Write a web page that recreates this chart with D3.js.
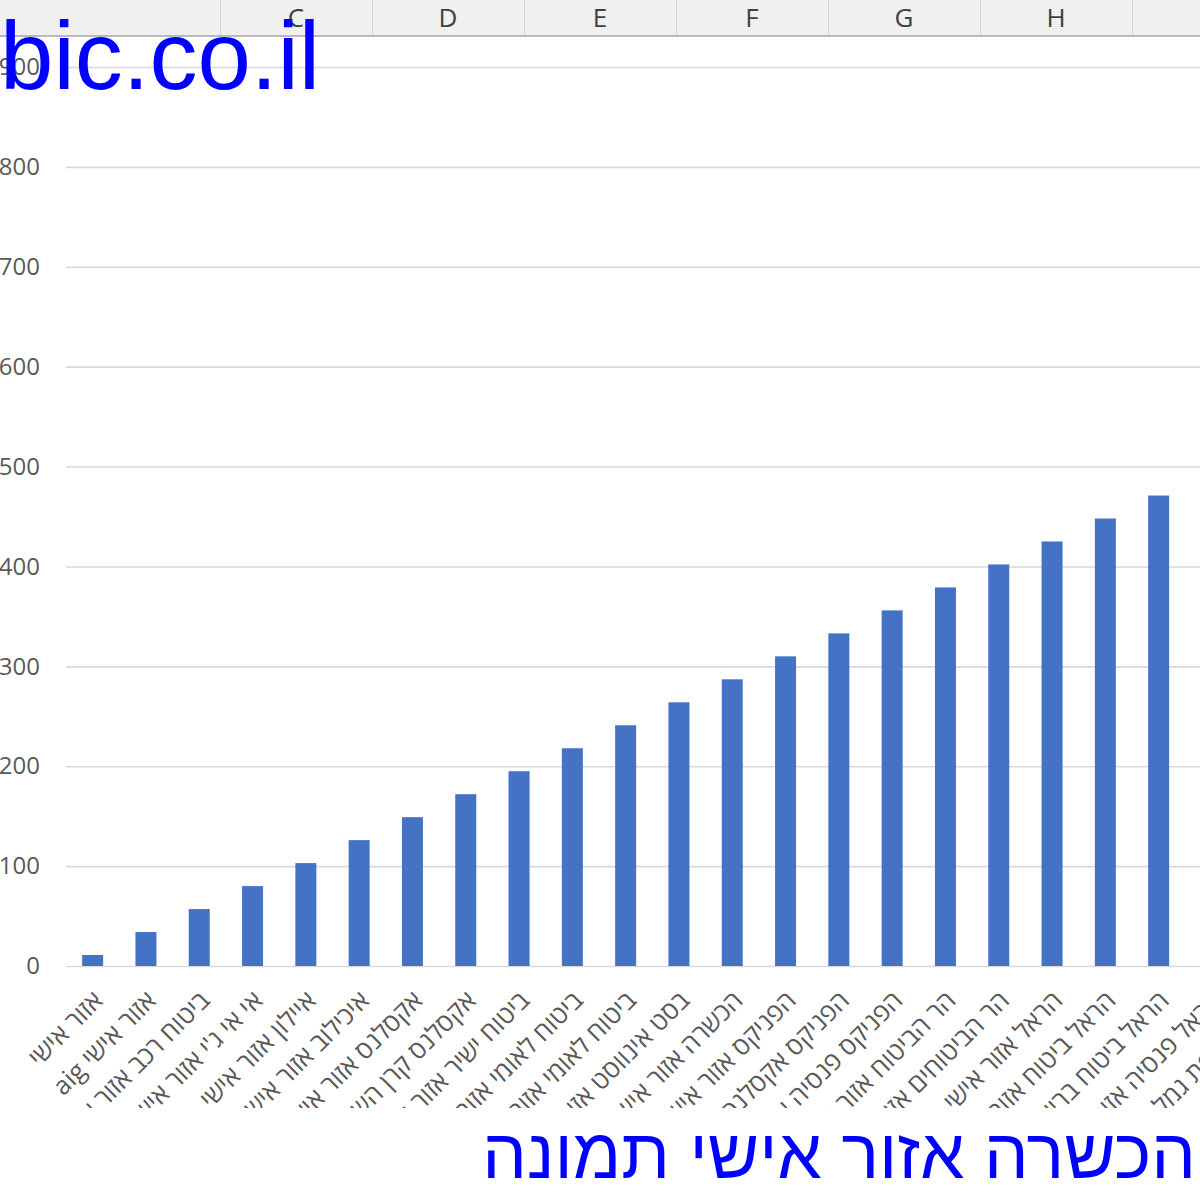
<!DOCTYPE html>
<html><head><meta charset="utf-8">
<script src="https://cdn.jsdelivr.net/npm/d3@7"></script>
<style>html,body{margin:0;padding:0;background:#fff;} svg{display:block}</style>
</head><body><svg id="c" width="1200" height="1200"></svg>
<script>
const categories = [
  "אזור אישי",
  "אזור אישי aig",
  "ביטוח רכב אזור אישי",
  "אי אי ג'י אזור אישי",
  "איילון אזור אישי",
  "איכילוב אזור אישי",
  "אקסלנס אזור אישי",
  "אקסלנס קרן השתלמות אזור אישי",
  "ביטוח ישיר אזור אישי",
  "ביטוח לאומי אזור אישי",
  "ביטוח לאומי אזור אישי מעסיקים",
  "בסט אינווסט אזור אישי",
  "הכשרה אזור אישי",
  "הפניקס אזור אישי",
  "הפניקס אקסלנס אזור אישי",
  "הפניקס פנסיה אזור אישי",
  "הר הביטוח אזור אישי",
  "הר הביטוחים אזור אישי",
  "הראל אזור אישי",
  "הראל ביטוח אזור אישי",
  "הראל ביטוח בריאות אזור אישי",
  "הראל פנסיה אזור אישי",
  "הראל קופת גמל אזור אישי"
];
const values = [11, 34, 57, 80, 103, 126, 149, 172, 195, 218, 241, 264, 287, 310, 333, 356, 379, 402, 425, 448, 471, 494, 517];
const yTicks = [0, 100, 200, 300, 400, 500, 600, 700, 800, 900];
const columnLetters = ["C", "D", "E", "F", "G", "H", "I"];
const watermark = "bic.co.il";
const caption = "הכשרה אזור אישי תמונה";

const W = 1200, H = 1200;
const font = "'Open Sans','Liberation Sans','DejaVu Sans',sans-serif";
const arial = "'Liberation Sans',Arial,sans-serif";
const svg = d3.select("#c");
svg.append("rect").attr("width", W).attr("height", H).attr("fill", "#fff");

const x = d3.scaleBand().domain(categories)
  .range([66, 66 + categories.length * 53.3])
  .paddingInner(0.606).paddingOuter(0.303);
const y = d3.scaleLinear().domain([0, 900]).range([966, 67]);

// gridlines + y tick labels
const yAxis = d3.axisLeft(y).tickValues(yTicks).tickSize(-(W - 66)).tickPadding(26).tickFormat(d3.format("d"));
const gy = svg.append("g").attr("transform", "translate(66,0)").call(yAxis);
gy.select(".domain").remove();
gy.selectAll(".tick line").attr("stroke", "#d9d9d9").attr("stroke-width", 1.6);
gy.selectAll(".tick text").attr("fill", "#595959").style("font-family", font).style("font-size", "24px");

// bars
svg.append("g").selectAll("rect").data(values).join("rect")
  .attr("x", (d, i) => x(categories[i]))
  .attr("y", d => y(d))
  .attr("width", x.bandwidth())
  .attr("height", d => y(0) - y(d))
  .attr("fill", "#4472c4");

// category labels (clipped)
svg.append("clipPath").attr("id", "lblclip").append("rect")
  .attr("x", 0).attr("y", 970).attr("width", W).attr("height", 138);
const gl = svg.append("g").attr("clip-path", "url(#lblclip)");
gl.selectAll("text").data(categories).join("text")
  .attr("transform", d => `translate(${x(d) + x.bandwidth() / 2 - 1},${989}) rotate(-45)`)
  .attr("direction", "rtl")
  .attr("text-anchor", "start")
  .attr("dy", "0.72em")
  .attr("fill", "#595959")
  .style("font-family", font)
  .style("font-size", "25.5px")
  .text(d => d);

// spreadsheet column header
const cols = d3.scaleBand().domain(columnLetters).range([220, 220 + columnLetters.length * 152]);
const gh = svg.append("g");
gh.append("rect").attr("x", 0).attr("y", 0).attr("width", W).attr("height", 36).attr("fill", "#f0f0f0");
gh.selectAll("line.sep").data(columnLetters).join("line").attr("class", "sep")
  .attr("x1", d => cols(d) + 0.5).attr("x2", d => cols(d) + 0.5)
  .attr("y1", 0).attr("y2", 36).attr("stroke", "#d6d6d6").attr("stroke-width", 1);
gh.append("line").attr("x1", 0).attr("x2", W).attr("y1", 36).attr("y2", 36)
  .attr("stroke", "#a6a6a6").attr("stroke-width", 1.5);
gh.selectAll("text").data(columnLetters).join("text")
  .attr("x", d => cols(d) + cols.bandwidth() / 2)
  .attr("y", 27)
  .attr("text-anchor", "middle")
  .attr("fill", "#404040")
  .style("font-family", font)
  .style("font-size", "26px")
  .text(d => d);

// overlays
svg.append("text").attr("x", 0).attr("y", 89)
  .attr("fill", "#0000ff").style("font-family", arial).style("font-size", "96px")
  .text(watermark);
svg.append("text").attr("x", 1196).attr("y", 1178)
  .attr("direction", "rtl").attr("text-anchor", "start")
  .attr("fill", "#0000ff").style("font-family", arial).style("font-size", "70.5px")
  .text(caption);
</script>
</body></html>
